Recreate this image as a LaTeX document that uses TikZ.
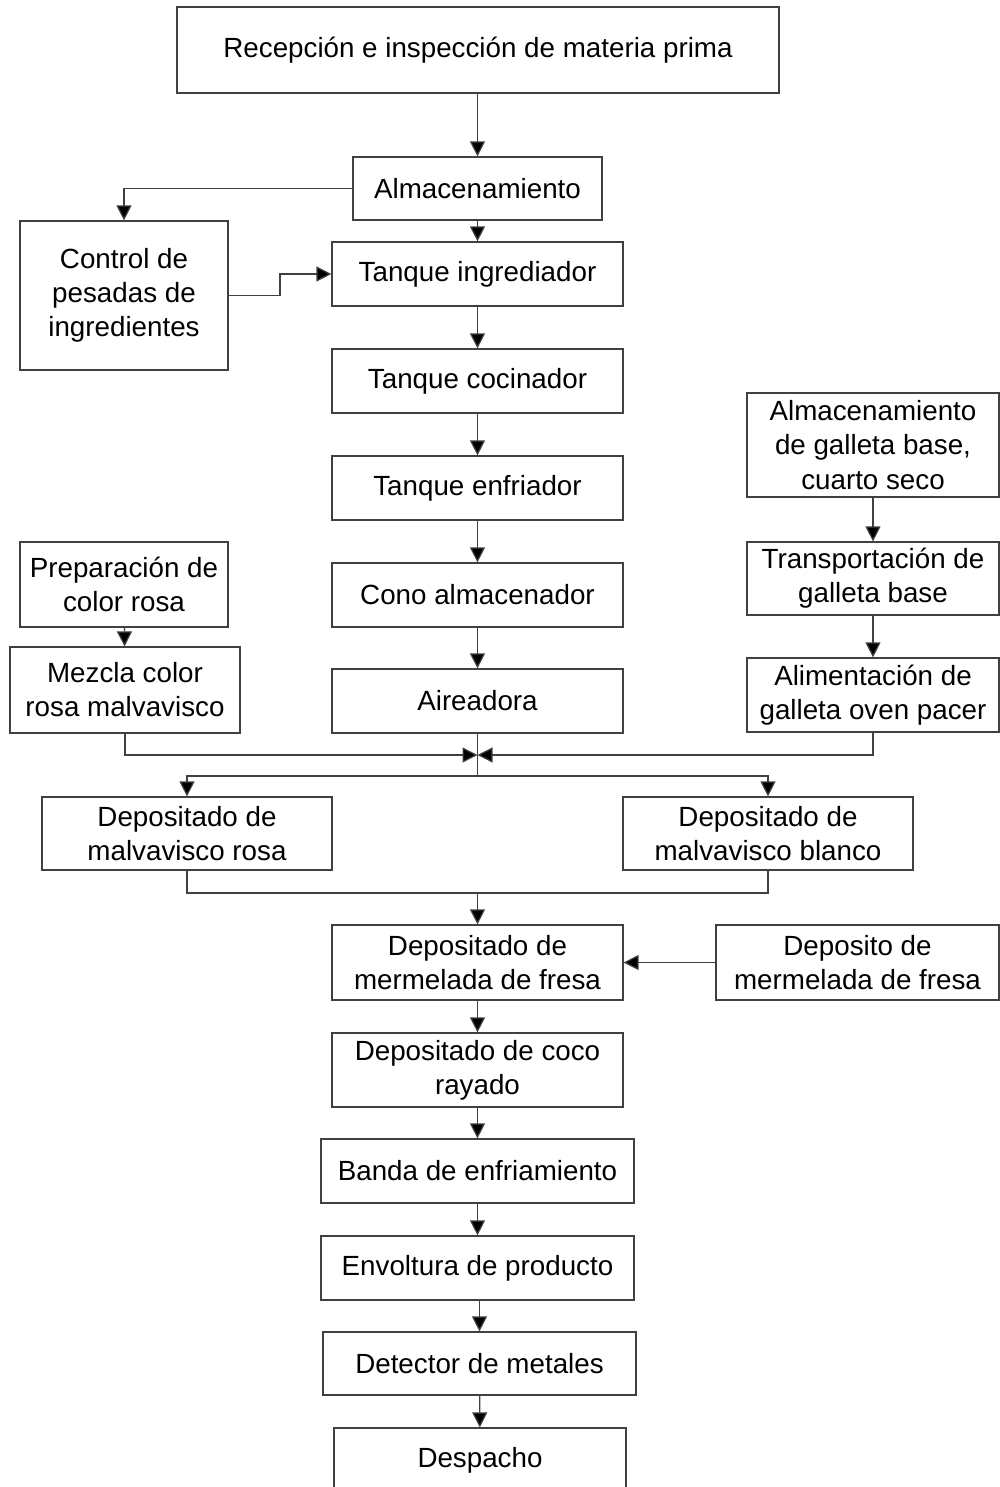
\documentclass[tikz,border=0pt]{standalone}
\usepackage{fontspec}
\setmainfont{Liberation Sans}
\usetikzlibrary{arrows.meta}

\begin{document}
\begin{tikzpicture}[x=0.02cm, y=-0.02cm,
  box/.style={draw=black!75, line width=0.7pt, rectangle, align=center, inner sep=0pt,
    font=\fontsize{15.8}{19.4}\selectfont, text=black},
  link/.style={draw=black!75, line width=0.7pt},
  arr/.style={link, -{Triangle[length=3mm, width=3mm, fill=black]}}]

\useasboundingbox (0,0) rectangle (1000,1487);

% main column
\node[box, minimum width=12.04cm, minimum height=1.72cm] (rec) at (478,50) {Recepción e inspección de materia prima};
\node[box, minimum width=4.98cm, minimum height=1.26cm] (alm) at (477.5,188.5) {Almacenamiento};
\node[box, minimum width=4.16cm, minimum height=2.98cm] (ctrl) at (124,295.5) {Control de\\pesadas de\\ingredientes};
\node[box, minimum width=5.82cm, minimum height=1.28cm] (ting) at (477.5,274) {Tanque ingrediador};
\node[box, minimum width=5.82cm, minimum height=1.28cm] (tcoc) at (477.5,381) {Tanque cocinador};
\node[box, minimum width=5.82cm, minimum height=1.28cm] (tenf) at (477.5,488) {Tanque enfriador};
\node[box, minimum width=5.82cm, minimum height=1.28cm] (cono) at (477.5,595) {Cono almacenador};
\node[box, minimum width=5.82cm, minimum height=1.28cm] (air) at (477.5,701) {Aireadora};

% left branch
\node[box, minimum width=4.16cm, minimum height=1.70cm] (prep) at (124,584.5) {Preparación de\\color rosa};
\node[box, minimum width=4.60cm, minimum height=1.72cm] (mez) at (125,690) {Mezcla color\\rosa malvavisco};

% right branch
\node[box, minimum width=5.04cm, minimum height=2.08cm] (galm) at (873,445) {Almacenamiento\\de galleta base,\\cuarto seco};
\node[box, minimum width=5.04cm, minimum height=1.46cm] (gtra) at (873,578.5) {Transportación de\\galleta base};
\node[box, minimum width=5.04cm, minimum height=1.48cm] (gali) at (873,695) {Alimentación de\\galleta oven pacer};

% depositors
\node[box, minimum width=5.80cm, minimum height=1.46cm] (drosa) at (187,833.5) {Depositado de\\malvavisco rosa};
\node[box, minimum width=5.80cm, minimum height=1.46cm] (dblanco) at (768,833.5) {Depositado de\\malvavisco blanco};
\node[box, minimum width=5.82cm, minimum height=1.50cm] (dmer) at (477.5,962.5) {Depositado de\\mermelada de fresa};
\node[box, minimum width=5.66cm, minimum height=1.50cm] (smer) at (857.5,962.5) {Deposito de\\mermelada de fresa};
\node[box, minimum width=5.82cm, minimum height=1.48cm] (coco) at (477.5,1070) {Depositado de coco\\rayado};
\node[box, minimum width=6.26cm, minimum height=1.28cm] (banda) at (477.5,1171) {Banda de enfriamiento};
\node[box, minimum width=6.26cm, minimum height=1.28cm] (envo) at (477.5,1268) {Envoltura de producto};
\node[box, minimum width=6.26cm, minimum height=1.26cm] (det) at (479.5,1363.5) {Detector de metales};
\node[box, minimum width=5.84cm, minimum height=1.28cm] (desp) at (480,1460) {Despacho};

% junction points
\coordinate (elbow) at (280,0);
\coordinate (join) at (477.5,755);
\coordinate (split) at (477.5,776);
\coordinate (join2) at (477.5,893);

% connectors
\draw[arr] (rec.south -| alm.north) -- (alm.north);
\draw[arr] (alm) -- (ting);
\draw[arr] (alm.west) -| (ctrl.north);
\draw[arr] (ctrl.east) -- (ctrl.east -| elbow) |- (ting.west);
\draw[arr] (ting) -- (tcoc);
\draw[arr] (tcoc) -- (tenf);
\draw[arr] (tenf) -- (cono);
\draw[arr] (cono) -- (air);

\draw[arr] (prep) -- (mez);
\draw[arr] (galm) -- (gtra);
\draw[arr] (gtra) -- (gali);

\draw[arr] (mez.south) |- (join);
\draw[arr] (gali.south) |- (join);
\draw[link] (air.south) -- (split);
\draw[arr] (split) -| (drosa.north);
\draw[arr] (split) -| (dblanco.north);

\draw[link] (drosa.south) |- (join2) -| (dblanco.south);
\draw[arr] (join2) -- (dmer.north);
\draw[arr] (smer.west) -- (dmer.east);

\draw[arr] (dmer) -- (coco);
\draw[arr] (coco) -- (banda);
\draw[arr] (banda) -- (envo);
\draw[arr] (envo.south -| det.north) -- (det.north);
\draw[arr] (det) -- (desp);

\end{tikzpicture}
\end{document}
